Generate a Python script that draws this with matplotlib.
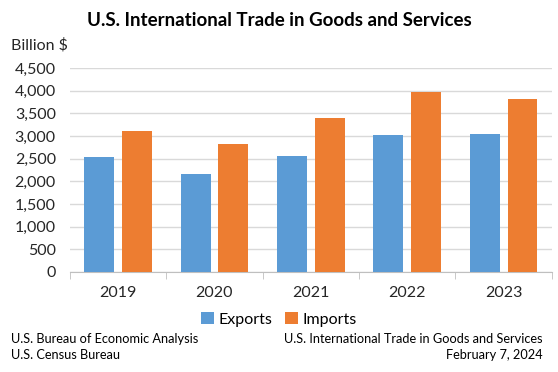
import matplotlib.pyplot as plt
import numpy as np

years = ["2019", "2020", "2021", "2022", "2023"]
exports = [2546, 2151, 2557, 3018, 3053]
imports = [3113, 2827, 3402, 3971, 3826]
y_ticks = [0, 500, 1000, 1500, 2000, 2500, 3000, 3500, 4000, 4500]

plt.rcParams["font.family"] = ["Lato", "DejaVu Sans"]

fig = plt.figure(figsize=(5.58, 3.72), dpi=100)
ax = fig.add_axes([0.125, 0.269, 0.864, 0.548])

x = np.arange(len(years))
w = 0.31
ax.bar(x - 0.195, exports, w, color="#5B9BD5", label="Exports", zorder=3)
ax.bar(x + 0.195, imports, w, color="#ED7D31", label="Imports", zorder=3)

ax.set_xlim(-0.5, len(years) - 0.5)
ax.set_ylim(0, 4500)
ax.set_yticks(y_ticks)
ax.set_yticklabels([f"{v:,}" for v in y_ticks], fontsize=11.5, color="#262626")
ax.set_xticks(x)
ax.set_xticklabels(years, fontsize=11.5, color="#262626")
ax.tick_params(axis="x", length=0, pad=10)
ax.tick_params(axis="y", length=0, pad=10)
ax.set_xticks(np.arange(len(years) + 1) - 0.5, minor=True)
ax.tick_params(axis="x", which="minor", length=5, color="#BFBFBF")
ax.grid(axis="y", color="#D9D9D9", linewidth=1, zorder=0)
for s in ["top", "right", "left"]:
    ax.spines[s].set_visible(False)
ax.spines["bottom"].set_color("#BFBFBF")

fig.text(0.5, 0.945, "U.S. International Trade in Goods and Services",
         ha="center", va="center", fontsize=13.5, fontweight="bold")
fig.text(0.02, 0.878, "Billion $", ha="left", va="center", fontsize=11.5, color="#262626")

fig.legend(loc="center", bbox_to_anchor=(0.5, 0.142), ncol=2, frameon=False,
           fontsize=11.5, handlelength=0.8, handleheight=0.8, handletextpad=0.3,
           columnspacing=0.8)

fig.text(0.02, 0.088, "U.S. Bureau of Economic Analysis", fontsize=9.2, va="center")
fig.text(0.02, 0.045, "U.S. Census Bureau", fontsize=9.2, va="center")
fig.text(0.972, 0.088, "U.S. International Trade in Goods and Services", fontsize=9.2,
         va="center", ha="right")
fig.text(0.972, 0.045, "February 7, 2024", fontsize=9.2, va="center", ha="right")

fig.savefig("out.png", dpi=100)
